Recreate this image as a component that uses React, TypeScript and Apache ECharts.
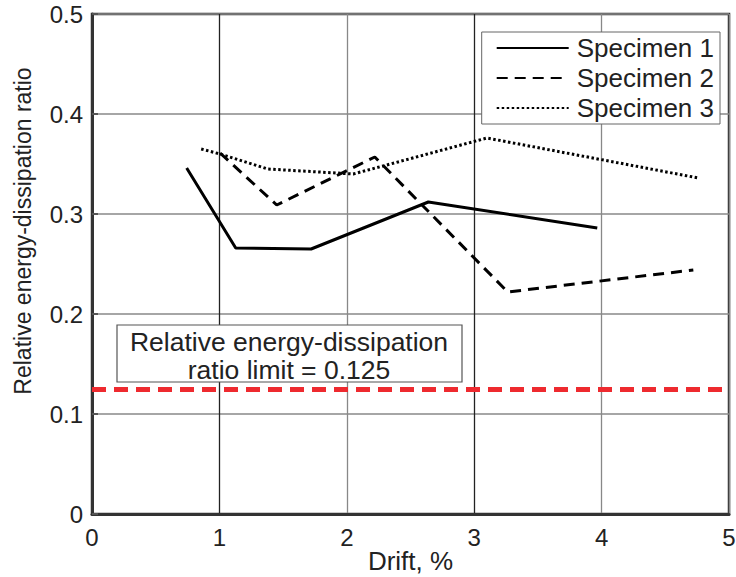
import React, { useEffect, useRef } from "react";
import * as echarts from "echarts";

const FONT = "'Liberation Sans', Arial, Helvetica, sans-serif";

const seriesNames = ["Specimen 1", "Specimen 2", "Specimen 3"];
const s1Drift = [0.743, 1.128, 1.72, 2.64, 3.966];
const s1Ratio = [0.346, 0.266, 0.265, 0.312, 0.286];
const s2Drift = [1.005, 1.45, 2.22, 3.263, 4.72];
const s2Ratio = [0.361, 0.309, 0.357, 0.222, 0.244];
const s3Drift = [0.857, 1.005, 1.38, 2.05, 3.1, 4.76];
const s3Ratio = [0.365, 0.36, 0.345, 0.34, 0.376, 0.336];
const limitValue = 0.125;
const xTicks = [0, 1, 2, 3, 4, 5];
const yTicks = [0, 0.1, 0.2, 0.3, 0.4, 0.5];

const pairs = (xs: number[], ys: number[]) => xs.map((x, i) => [x, ys[i]]);

export default function App() {
  const ref = useRef<HTMLDivElement>(null);
  useEffect(() => {
    document.body.style.margin = "0";
    const chart = echarts.init(ref.current!, null, { renderer: "svg" });
    const lineStyles: any[] = [
      { color: "#000", width: 3, type: "solid" },
      { color: "#000", width: 3, type: [11, 7] },
      { color: "#000", width: 3, type: [2.5, 2.5] },
    ];
    const datas = [pairs(s1Drift, s1Ratio), pairs(s2Drift, s2Ratio), pairs(s3Drift, s3Ratio)];
    chart.setOption({
      animation: false,
      backgroundColor: "#fff",
      grid: {
        left: 92,
        right: 7,
        top: 14,
        bottom: 63,
        outerBoundsMode: "none",
        show: true,
        borderColor: "#333",
        borderWidth: 2.5,
      },
      xAxis: {
        type: "value",
        min: xTicks[0],
        max: xTicks[xTicks.length - 1],
        interval: 1,
        name: "Drift, %",
        nameLocation: "middle",
        nameGap: 34,
        nameMoveOverlap: false,
        nameTextStyle: { fontFamily: FONT, fontSize: 26, color: "#222" },
        axisLine: { show: true, lineStyle: { color: "#333", width: 3 } },
        axisTick: { show: false },
        axisLabel: { fontFamily: FONT, fontSize: 24, color: "#222", margin: 11 },
        splitLine: {
          show: true,
          lineStyle: { color: ["#888", "#222", "#888", "#222", "#888", "#888"], width: 1.3 },
        },
      },
      yAxis: {
        type: "value",
        min: yTicks[0],
        max: yTicks[yTicks.length - 1],
        interval: 0.1,
        axisLine: { show: true, lineStyle: { color: "#333", width: 3 } },
        axisTick: { show: true, inside: true, length: 6, lineStyle: { color: "#555", width: 2 } },
        axisLabel: {
          fontFamily: FONT,
          fontSize: 24,
          color: "#222",
          margin: 9,
          formatter: (v: number) => (v === 0 ? "0" : String(Math.round(v * 10) / 10)),
        },
        splitLine: { show: true, lineStyle: { color: "#888", width: 1.5 } },
      },
      legend: {
        orient: "vertical",
        right: 16,
        top: 32,
        data: seriesNames,
        itemWidth: 72,
        itemHeight: 26,
        itemGap: 4,
        padding: [3, 6, 3, 14],
        borderColor: "#666",
        borderWidth: 1,
        backgroundColor: "#fff",
        itemStyle: { opacity: 0 },
        textStyle: { fontFamily: FONT, fontSize: 26, color: "#222", lineHeight: 26, padding: [0, 0, 0, 3] },
      },
      series: [
        ...seriesNames.map((name, i) => ({
          name,
          type: "line",
          data: datas[i],
          symbol: "none",
          lineStyle: lineStyles[i],
          itemStyle: { color: "#000" },
          z: 3,
          ...(i === 0
            ? {
                markLine: {
                  silent: true,
                  symbol: "none",
                  precision: 4,
                  label: { show: false },
                  lineStyle: { color: "#ee2a2f", width: 5, type: [14, 8] },
                  data: [{ yAxis: limitValue }],
                  z: 2,
                },
              }
            : {}),
        })),
      ],
    });
    // place the annotation box just above the limit line
    const lineY = chart.convertToPixel({ gridIndex: 0 }, [0, limitValue])[1];
    const boxH = 57;
    const boxTop = Math.round(lineY - 7 - boxH);
    chart.setOption({
      graphic: [
        {
          type: "group",
          id: "note",
          x: 117,
          y: boxTop,
          z: 100,
          children: [
            {
              type: "rect",
              z: 100,
              shape: { x: 0, y: 0, width: 345, height: boxH },
              style: { fill: "#fff", stroke: "#555", lineWidth: 1.2 },
            },
            {
              type: "text",
              z: 101,
              x: 172,
              y: 17,
              style: {
                text: "Relative energy-dissipation",
                fontFamily: FONT,
                fontSize: 26.5,
                fill: "#222",
                align: "center",
                verticalAlign: "middle",
              },
            },
            {
              type: "text",
              z: 101,
              x: 172,
              y: 45,
              style: {
                text: "ratio limit = 0.125",
                fontFamily: FONT,
                fontSize: 26.5,
                fill: "#222",
                align: "center",
                verticalAlign: "middle",
              },
            },
          ],
        },
        {
          type: "text",
          id: "ytitle",
          x: 23,
          y: 231,
          rotation: Math.PI / 2,
          style: {
            text: "Relative energy-dissipation ratio",
            fontFamily: FONT,
            fontSize: 23,
            fill: "#222",
            align: "center",
            verticalAlign: "middle",
          },
        },
      ],
    });
    return () => chart.dispose();
  }, []);
  return <div ref={ref} style={{ width: 736, height: 577 }} />;
}
